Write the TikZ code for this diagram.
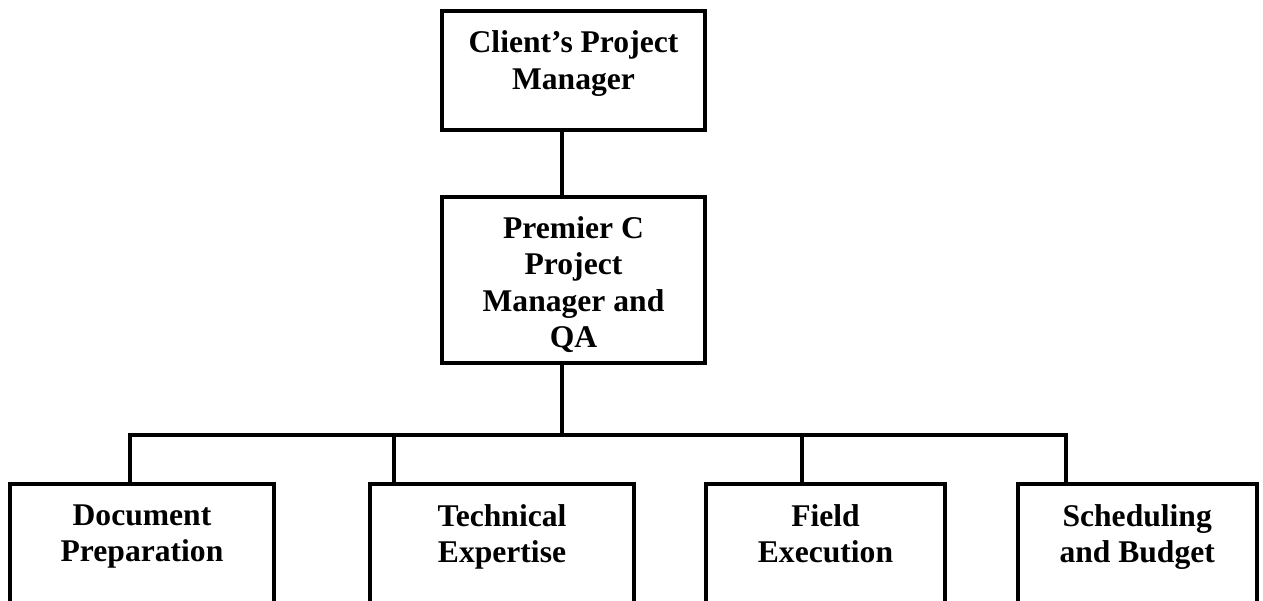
\documentclass[tikz,border=0pt]{standalone}
\usepackage{fontspec}
\setmainfont{Liberation Serif}
\usetikzlibrary{positioning}

\tikzset{
  unit/.style = {draw, line width = 4pt, inner sep = 0pt, outer sep = 0pt},
  caption/.style = {font = \bfseries\fontsize{31.6}{36.5}\selectfont, align = center, inner sep = 0pt, outer sep = 0pt}
}

\begin{document}
\begin{tikzpicture}[x = 1pt, y = -1pt, line width = 4pt]
\useasboundingbox (0, 0) rectangle (1263, 600);
\clip (0, 0) rectangle (1263, 600);

\node[unit, minimum width = 263pt, minimum height = 119pt] (client) at (573.5, 70.5) {};
\node[unit, minimum width = 263pt, minimum height = 166pt] (premier) at (573.5, 279.7) {};
\node[unit, minimum width = 264pt, minimum height = 200pt] (doc) at (142, 584) {};
\node[unit, minimum width = 264pt, minimum height = 200pt] (tech) at (502, 584) {};
\node[unit, minimum width = 239pt, minimum height = 200pt] (field) at (825.5, 584) {};
\node[unit, minimum width = 239pt, minimum height = 200pt] (sched) at (1137.2, 584) {};

\node[caption, below = 20pt of client.north] (client-txt) {Client’s Project\\Manager};
\node[caption, below = 19.5pt of premier.north] (premier-txt) {Premier C\\Project\\Manager and\\QA};
\node[caption, below = 20.5pt of doc.north] (doc-txt) {Document\\Preparation};
\node[caption, below = 20.5pt of tech.north] (tech-txt) {Technical\\Expertise};
\node[caption, below = 20.5pt of field.north] (field-txt) {Field\\Execution};
\node[caption, below = 20.5pt of sched.north] (sched-txt) {Scheduling\\and Budget};

\coordinate (hub) at (562, 435);
\coordinate (j-doc) at (130, 435);
\coordinate (j-tech) at (393.5, 435);
\coordinate (j-field) at (802, 435);
\coordinate (j-sched) at (1066, 435);

\draw (hub |- client.south) -- (hub |- premier.north);
\draw (hub |- premier.south) -- (hub);
\draw (j-doc |- doc.north) -- (j-doc) -- (j-sched) -- (j-sched |- sched.north);
\draw (j-tech) -- (j-tech |- tech.north);
\draw (j-field) -- (j-field |- field.north);

\end{tikzpicture}
\end{document}
